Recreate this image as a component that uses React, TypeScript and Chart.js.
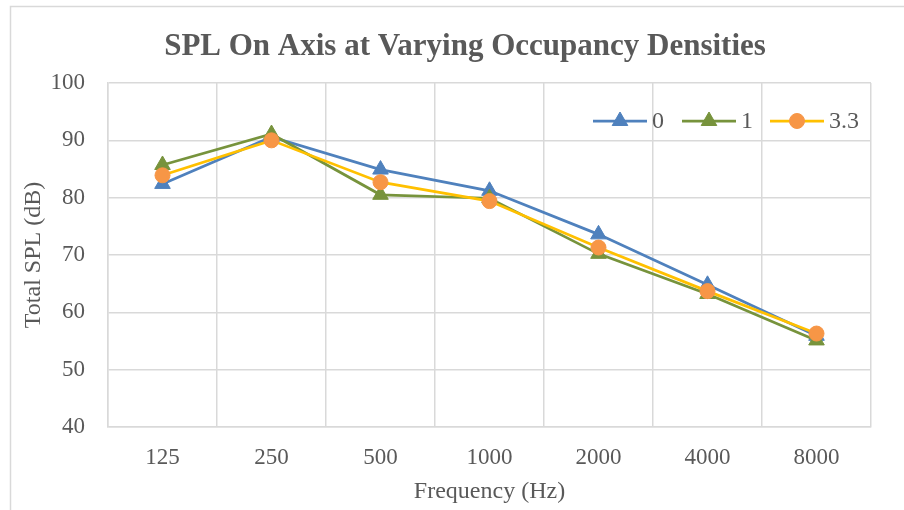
import React, { useEffect, useRef } from 'react';
import { Chart, registerables } from 'chart.js';
import { drawPoint } from 'chart.js/helpers';

Chart.register(...registerables);

const categories = ['125', '250', '500', '1000', '2000', '4000', '8000'];
const series0 = [82.4, 90.6, 84.9, 81.2, 73.6, 64.8, 55.9];
const series1 = [85.7, 91.1, 80.5, 79.9, 70.2, 63.2, 55.1];
const series33 = [83.9, 90.0, 82.7, 79.4, 71.3, 63.7, 56.3];
const seriesLabels = ['0', '1', '3.3'];
const yMin = 40;
const yMax = 100;
const yStep = 10;
const titleText = 'SPL On Axis at Varying Occupancy Densities';
const xTitleText = 'Frequency (Hz)';
const yTitleText = 'Total SPL (dB)';

const FONT = '"Liberation Serif", "Times New Roman", serif';
const TEXT = '#595959';
const GRID = '#d9d9d9';

const frameAndTitle = {
  id: 'frameAndTitle',
  beforeDraw(chart: any) {
    const ctx = chart.ctx;
    ctx.save();
    ctx.fillStyle = '#ffffff';
    ctx.fillRect(0, 0, chart.width, chart.height);
    ctx.strokeStyle = GRID;
    ctx.lineWidth = 1.5;
    ctx.beginPath();
    ctx.moveTo(10.5, chart.height);
    ctx.lineTo(10.5, 6.5);
    ctx.lineTo(chart.width, 6.5);
    ctx.stroke();
    ctx.restore();
  },
  afterDraw(chart: any) {
    const ctx = chart.ctx;
    ctx.save();
    ctx.fillStyle = TEXT;
    ctx.font = `bold 31px ${FONT}`;
    ctx.textAlign = 'center';
    ctx.textBaseline = 'middle';
    ctx.fillText(titleText, 465, 47);

    // legend
    const starts = [593, 682, 770];
    const y = 121;
    chart.data.datasets.forEach((ds: any, i: number) => {
      const x0 = starts[i];
      ctx.strokeStyle = ds.borderColor;
      ctx.lineWidth = ds.borderWidth;
      ctx.beginPath();
      ctx.moveTo(x0, y);
      ctx.lineTo(x0 + 54, y);
      ctx.stroke();
      ctx.fillStyle = ds.pointBackgroundColor;
      ctx.strokeStyle = ds.pointBorderColor;
      ctx.lineWidth = 1;
      drawPoint(ctx, { pointStyle: ds.pointStyle, radius: ds.pointRadius, borderWidth: 1, rotation: 0 }, x0 + 27, y);
      ctx.fillStyle = TEXT;
      ctx.font = `24px ${FONT}`;
      ctx.textAlign = 'left';
      ctx.textBaseline = 'middle';
      ctx.fillText(ds.label, x0 + 59, y + 1);
    });
    ctx.restore();
  },
};

export default function App() {
  const ref = useRef<HTMLCanvasElement | null>(null);

  useEffect(() => {
    document.body.style.margin = '0';
    const canvas = ref.current;
    if (!canvas) return;
    const chart = new Chart(canvas, {
      type: 'line',
      data: {
        labels: categories,
        datasets: [
          {
            label: seriesLabels[0],
            data: series0,
            borderColor: '#4F81BD',
            backgroundColor: '#4F81BD',
            borderWidth: 2.75,
            pointStyle: 'triangle',
            pointRadius: 9,
            pointBackgroundColor: '#4F81BD',
            pointBorderColor: '#4F81BD',
            pointBorderWidth: 1,
            tension: 0,
            order: 3,
          },
          {
            label: seriesLabels[1],
            data: series1,
            borderColor: '#77933C',
            backgroundColor: '#77933C',
            borderWidth: 2.75,
            pointStyle: 'triangle',
            pointRadius: 9,
            pointBackgroundColor: '#77933C',
            pointBorderColor: '#77933C',
            pointBorderWidth: 1,
            tension: 0,
            order: 2,
          },
          {
            label: seriesLabels[2],
            data: series33,
            borderColor: '#FFC000',
            backgroundColor: '#F79646',
            borderWidth: 2.75,
            pointStyle: 'circle',
            pointRadius: 7.5,
            pointBackgroundColor: '#F79646',
            pointBorderColor: '#F79646',
            pointBorderWidth: 1,
            tension: 0,
            order: 1,
          },
        ],
      },
      options: {
        responsive: false,
        animation: false,
        events: [],
        layout: { padding: { left: 0, right: 33, top: 83, bottom: 0 } },
        plugins: {
          legend: { display: false },
          title: { display: false },
          tooltip: { enabled: false },
        },
        scales: {
          x: {
            offset: true,
            grid: { offset: true, color: GRID, lineWidth: 1.5, drawTicks: false },
            border: { color: GRID, width: 1.5 },
            ticks: { color: TEXT, font: { family: FONT, size: 23 }, padding: 17, maxRotation: 0 },
            title: {
              display: true,
              text: xTitleText,
              color: TEXT,
              font: { family: FONT, size: 24 },
              padding: { top: 0, bottom: 4 },
            },
            afterFit: (s: any) => {
              s.height = 83;
            },
          },
          y: {
            min: yMin,
            max: yMax,
            grid: { color: GRID, lineWidth: 1.5, drawTicks: false },
            border: { color: GRID, width: 1.5 },
            ticks: { stepSize: yStep, color: TEXT, font: { family: FONT, size: 23 }, padding: 23 },
            title: {
              display: true,
              text: yTitleText,
              color: TEXT,
              font: { family: FONT, size: 24 },
              padding: { top: 19, bottom: 0 },
            },
            afterFit: (s: any) => {
              s.width = 108;
            },
          },
        },
      },
      plugins: [frameAndTitle],
    });
    return () => chart.destroy();
  }, []);

  return (
    <div style={{ width: 904, height: 510 }}>
      <canvas ref={ref} width={904} height={510} style={{ display: 'block', width: 904, height: 510 }} />
    </div>
  );
}
